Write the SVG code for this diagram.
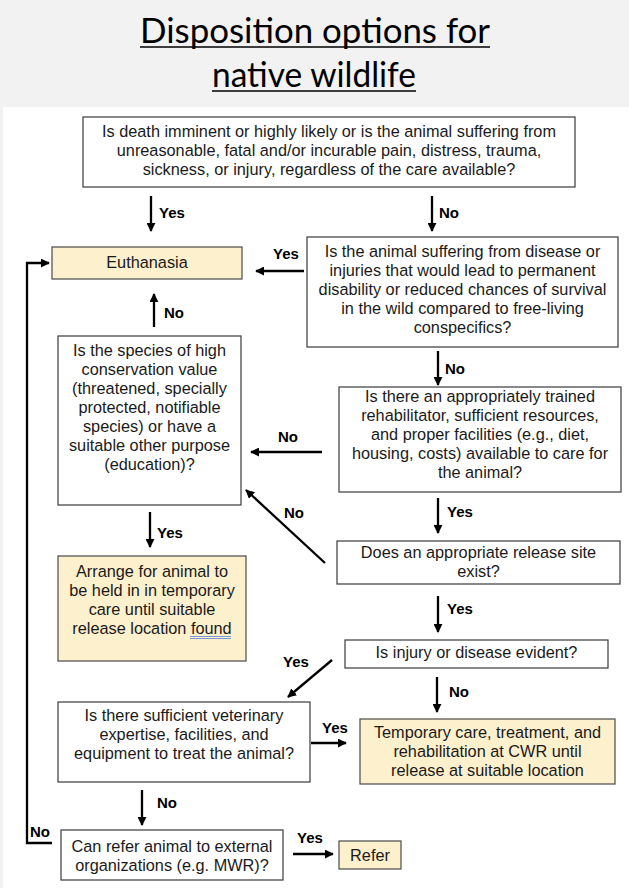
<svg xmlns="http://www.w3.org/2000/svg" width="629" height="888" viewBox="0 0 629 888">
<style>
.box{fill:#ffffff;stroke:#3a3a3a;stroke-width:1.2}
.hl{fill:#fdf0cc;stroke:#4a4a4a;stroke-width:1.2}
.t{font-family:"Liberation Sans",Arial,sans-serif;font-size:16.3px;fill:#1a1a1a;text-anchor:middle}
.lbl{font-family:"Liberation Sans",Arial,sans-serif;font-size:15px;font-weight:bold;fill:#000}
.title{font-family:Lato,"Open Sans",sans-serif;font-size:35px;fill:#000;text-anchor:middle}
.c{fill:none;stroke:#000;stroke-width:2.3}
</style>
<defs>
<marker id="ah" viewBox="0 0 10 10" refX="9" refY="5" markerWidth="9" markerHeight="9" markerUnits="userSpaceOnUse" orient="auto"><path d="M0,0 L10,5 L0,10 z" fill="#000"/></marker>
</defs>
<rect x="0" y="0" width="629" height="888" fill="#f2f2f2"/>
<rect x="3" y="107" width="626" height="781" fill="#ffffff"/>
<g id="title">
<text class="title" x="315" y="43" textLength="350" lengthAdjust="spacingAndGlyphs">Disposition options for</text>
<line x1="140" y1="47" x2="490" y2="47" stroke="#000" stroke-width="1.6"/>
<text class="title" x="314" y="87" textLength="204" lengthAdjust="spacingAndGlyphs">native wildlife</text>
<line x1="212" y1="91" x2="416" y2="91" stroke="#000" stroke-width="1.6"/>
</g>
<g id="q1">
<rect class="box" x="83" y="117" width="492" height="70"/>
<text class="t" x="329" y="137">Is death imminent or highly likely or is the animal suffering from</text>
<text class="t" x="329" y="156">unreasonable, fatal and/or incurable pain, distress, trauma,</text>
<text class="t" x="329" y="175">sickness, or injury, regardless of the care available?</text>
</g>
<g id="euthanasia">
<rect class="hl" x="52" y="247" width="190" height="32"/>
<text class="t" x="147" y="268">Euthanasia</text>
</g>
<g id="q2">
<rect class="box" x="307" y="237" width="311" height="110"/>
<text class="t" x="462.5" y="257">Is the animal suffering from disease or</text>
<text class="t" x="462.5" y="276">injuries that would lead to permanent</text>
<text class="t" x="462.5" y="295">disability or reduced chances of survival</text>
<text class="t" x="462.5" y="314">in the wild compared to free-living</text>
<text class="t" x="462.5" y="333">conspecifics?</text>
</g>
<g id="q3">
<rect class="box" x="58" y="336" width="183" height="169"/>
<text class="t" x="149.5" y="356">Is the species of high</text>
<text class="t" x="149.5" y="375">conservation value</text>
<text class="t" x="149.5" y="394">(threatened, specially</text>
<text class="t" x="149.5" y="413">protected, notifiable</text>
<text class="t" x="149.5" y="432">species) or have a</text>
<text class="t" x="149.5" y="451">suitable other purpose</text>
<text class="t" x="149.5" y="470">(education)?</text>
</g>
<g id="q4">
<rect class="box" x="339" y="387" width="282" height="105"/>
<text class="t" x="480" y="402">Is there an appropriately trained</text>
<text class="t" x="480" y="421">rehabilitator, sufficient resources,</text>
<text class="t" x="480" y="440">and proper facilities (e.g., diet,</text>
<text class="t" x="480" y="459">housing, costs) available to care for</text>
<text class="t" x="480" y="478">the animal?</text>
</g>
<g id="q5">
<rect class="box" x="337" y="541" width="283" height="43"/>
<text class="t" x="478.5" y="558">Does an appropriate release site</text>
<text class="t" x="478.5" y="577">exist?</text>
</g>
<g id="arrange">
<rect class="hl" x="58" y="556" width="188" height="105"/>
<text class="t" x="152" y="577">Arrange for animal to</text>
<text class="t" x="152" y="596">be held in in temporary</text>
<text class="t" x="152" y="615">care until suitable</text>
<text class="t" x="152" y="634">release location found</text>
<line x1="190" y1="636.5" x2="231" y2="636.5" stroke="#5b7fd6" stroke-width="0.8"/>
<line x1="190" y1="638.5" x2="231" y2="638.5" stroke="#5b7fd6" stroke-width="0.8"/>
</g>
<g id="q6">
<rect class="box" x="345" y="640" width="263" height="28"/>
<text class="t" x="476.5" y="658">Is injury or disease evident?</text>
</g>
<g id="q7">
<rect class="box" x="58" y="702" width="252" height="80"/>
<text class="t" x="184" y="721">Is there sufficient veterinary</text>
<text class="t" x="184" y="740">expertise, facilities, and</text>
<text class="t" x="184" y="759">equipment to treat the animal?</text>
</g>
<g id="temporary">
<rect class="hl" x="360" y="719" width="255" height="65"/>
<text class="t" x="487.5" y="738">Temporary care, treatment, and</text>
<text class="t" x="487.5" y="757">rehabilitation at CWR until</text>
<text class="t" x="487.5" y="776">release at suitable location</text>
</g>
<g id="q8">
<rect class="box" x="61" y="830" width="222" height="50"/>
<text class="t" x="172" y="852">Can refer animal to external</text>
<text class="t" x="172" y="871">organizations (e.g. MWR)?</text>
</g>
<g id="refer">
<rect class="hl" x="339" y="841" width="62" height="28"/>
<text class="t" x="370" y="861">Refer</text>
</g>
<g id="connectors">
<path class="c" d="M151,196 V231" marker-end="url(#ah)"/>
<path class="c" d="M432,196 V231" marker-end="url(#ah)"/>
<path class="c" d="M304,271 H256" marker-end="url(#ah)"/>
<path class="c" d="M154,327 V294" marker-end="url(#ah)"/>
<path class="c" d="M438,351 V385" marker-end="url(#ah)"/>
<path class="c" d="M322,452 H251" marker-end="url(#ah)"/>
<path class="c" d="M438,498 V533" marker-end="url(#ah)"/>
<path class="c" d="M325,563 L246,490" marker-end="url(#ah)"/>
<path class="c" d="M150,512 V547" marker-end="url(#ah)"/>
<path class="c" d="M438,596 V632" marker-end="url(#ah)"/>
<path class="c" d="M332,660 L288,697" marker-end="url(#ah)"/>
<path class="c" d="M437,677 V712" marker-end="url(#ah)"/>
<path class="c" d="M311,743 H346" marker-end="url(#ah)"/>
<path class="c" d="M142,790 V825" marker-end="url(#ah)"/>
<path class="c" d="M293,854 H333" marker-end="url(#ah)"/>
<path class="c" d="M52,843 H27 V263 H49" stroke-width="3" marker-end="url(#ah)"/>
<text class="lbl" x="159" y="218">Yes</text>
<text class="lbl" x="439" y="218">No</text>
<text class="lbl" x="273" y="259">Yes</text>
<text class="lbl" x="164" y="318">No</text>
<text class="lbl" x="445" y="374">No</text>
<text class="lbl" x="278" y="442">No</text>
<text class="lbl" x="447" y="517">Yes</text>
<text class="lbl" x="284" y="518">No</text>
<text class="lbl" x="157" y="538">Yes</text>
<text class="lbl" x="447" y="614">Yes</text>
<text class="lbl" x="283" y="667">Yes</text>
<text class="lbl" x="449" y="697">No</text>
<text class="lbl" x="322" y="733">Yes</text>
<text class="lbl" x="157" y="808">No</text>
<text class="lbl" x="297" y="843">Yes</text>
<text class="lbl" x="30" y="837">No</text>
</g>
</svg>
